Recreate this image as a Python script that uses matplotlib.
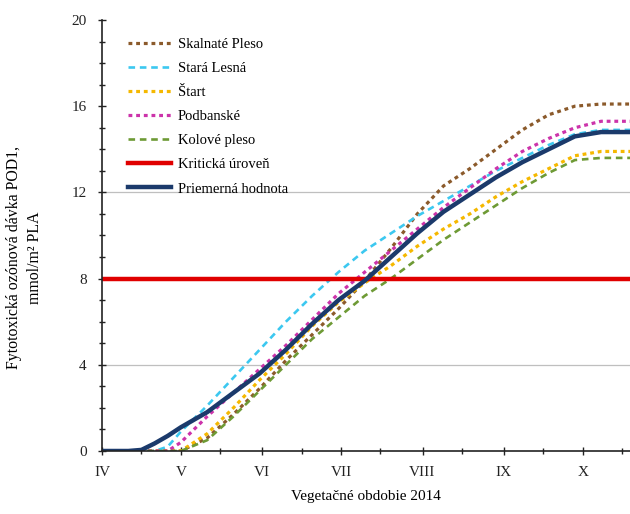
import matplotlib
matplotlib.use("Agg")
import matplotlib.pyplot as plt
from matplotlib.ticker import FixedLocator, MultipleLocator

plt.rcParams['font.family'] = ['Liberation Serif', 'DejaVu Serif']

# days since 1 April 2014
days = [0, 10, 15, 20, 25, 30, 40, 50, 60, 70, 80, 90, 100, 110, 120, 130,
        140, 150, 160, 170, 180, 190, 201]

skalnate = [0, 0, 0, 0, 0, 0.0, 0.6, 1.7, 2.9, 4.2, 5.4, 6.6, 7.9, 9.4, 11.0, 12.3,
            13.1, 14.0, 14.9, 15.6, 16.0, 16.1, 16.1]
stara_lesna = [0, 0, 0, 0, 0.2, 0.9, 2.1, 3.4, 4.7, 6.0, 7.2, 8.3, 9.3, 10.1, 10.9, 11.6,
               12.3, 13.0, 13.6, 14.2, 14.7, 14.9, 14.9]
start = [0, 0, 0, 0, 0, 0.0, 0.8, 2.0, 3.3, 4.5, 5.8, 6.9, 7.8, 8.6, 9.5, 10.3,
         11.0, 11.8, 12.5, 13.1, 13.7, 13.9, 13.9]
podbanske = [0, 0, 0, 0, 0.0, 0.4, 1.6, 2.7, 3.8, 4.9, 6.1, 7.3, 8.3, 9.3, 10.3, 11.3,
             12.2, 13.1, 13.9, 14.5, 15.0, 15.3, 15.3]
kolove = [0, 0, 0, 0, 0, 0.0, 0.5, 1.6, 2.8, 4.0, 5.2, 6.2, 7.2, 8.0, 8.9, 9.8,
          10.6, 11.4, 12.2, 12.9, 13.5, 13.6, 13.6]
priemer = [0, 0, 0.05, 0.35, 0.7, 1.1, 1.8, 2.7, 3.6, 4.7, 5.9, 7.0, 7.9, 9.0, 10.1, 11.1,
           11.9, 12.7, 13.4, 14.0, 14.6, 14.8, 14.8]
kriticka_uroven = 8

month_days = [0, 30, 61, 91, 122, 153, 183]
month_labels = ['IV', 'V', 'VI', 'VII', 'VIII', 'IX', 'X']
ytick_vals = [0, 4, 8, 12, 16, 20]

fig = plt.figure(figsize=(6.3, 5.14), dpi=100)
ax = fig.add_axes([0.162, 0.1226, 0.838, 0.8385])

for y in [4, 12]:
    ax.axhline(y, color='#BFBFBF', lw=0.9, zorder=0)

ax.plot(days, skalnate, color='#8B5A2B', lw=2.3, ls=(0, (1.2, 1.2)), label='Skalnaté Pleso')
ax.plot(days, stara_lesna, color='#3CC8F0', lw=1.9, ls=(0, (2.5, 1.8)), label='Stará Lesná')
ax.plot(days, start, color='#F5B800', lw=2.3, ls=(0, (1.2, 1.2)), label='Štart')
ax.plot(days, podbanske, color='#CC33AA', lw=2.3, ls=(0, (1.2, 1.2)), label='Podbanské')
ax.plot(days, kolove, color='#6E9A35', lw=1.9, ls=(0, (2.5, 1.8)), label='Kolové pleso')
ax.axhline(kriticka_uroven, color='#E00000', lw=3.2, label='Kritická úroveň')
ax.plot(days, priemer, color='#1B3A6B', lw=3.2, label='Priemerná hodnota')

ax.set_xlim(0, 201)
ax.set_ylim(0, 20)
ax.xaxis.set_major_locator(FixedLocator(month_days))
ax.set_xticklabels(month_labels)
ax.xaxis.set_minor_locator(FixedLocator([15, 45, 76, 106, 137, 168, 198]))
ax.yaxis.set_major_locator(FixedLocator(ytick_vals))
ax.yaxis.set_minor_locator(MultipleLocator(1))

for s in ['top', 'right']:
    ax.spines[s].set_visible(False)
for s in ['left', 'bottom']:
    ax.spines[s].set_linewidth(1.2)
    ax.spines[s].set_color('#222222')

ax.tick_params(axis='both', which='major', direction='inout', length=6, width=1,
               labelsize=11, colors='#222222', pad=8)
ax.tick_params(axis='both', which='minor', direction='inout', length=4, width=1,
               colors='#222222')

ax.set_xlabel('Vegetačné obdobie 2014', fontsize=11, labelpad=8)
ax.set_ylabel('Fytotoxická ozónová dávka POD1,\nmmol/m² PLA', fontsize=11.4,
              linespacing=1.45)
ax.yaxis.set_label_coords(-0.112, 0.448)

leg = ax.legend(loc='upper left', bbox_to_anchor=(0.025, 0.99), frameon=False,
                fontsize=10.5, handlelength=2.9, handletextpad=0.5, labelspacing=0.75)

fig.savefig('out.png', dpi=100, facecolor='white')
